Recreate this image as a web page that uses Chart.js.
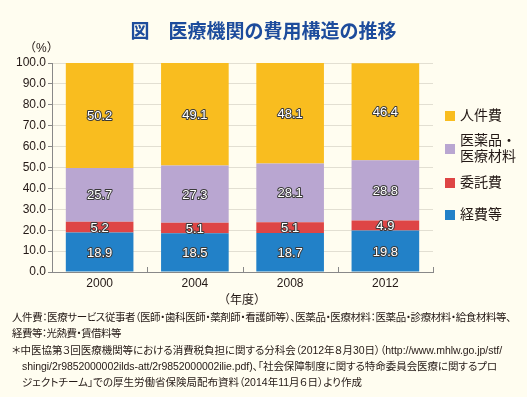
<!DOCTYPE html>
<html lang="ja">
<head>
<meta charset="utf-8">
<script src="https://cdn.jsdelivr.net/npm/chart.js@4"></script>
<style>
  body { margin: 0; background: #fffdf0; }
  #wrap { position: relative; width: 527px; height: 397px; background: #fffdf0; overflow: hidden;
          font-family: 'Liberation Sans', 'Noto Sans CJK JP', sans-serif; color: #231815; }
  #wrap canvas { position: absolute; left: 0; top: 0; }
  .title { position: absolute; left: 0; width: 527px; top: 16px; text-align: center;
           font-family: 'Noto Sans CJK JP', sans-serif; font-weight: bold; font-size: 19px; color: #1d4c9c; }
  .unit { position: absolute; left: 24px; top: 38px; font-size: 12px; }
  .xtitle { position: absolute; left: 218px; top: 290px; font-size: 12px; }
  .notes { position: absolute; left: 12px; top: 309px; font-size: 10.5px; line-height: 16.3px; white-space: nowrap;
           font-feature-settings: "palt"; }
  .notes span { display: inline-block; }
  .notes .ind { padding-left: 10px; }
</style>
</head>
<body>
<div id="wrap">
  <canvas id="chart" width="527" height="397"></canvas>
  <div class="title">図　医療機関の費用構造の推移</div>
  <div class="unit">（%）</div>
  <div class="xtitle">（年度）</div>
  <div class="notes">
    <div><span data-w="499">人件費：医療サービス従事者（医師・歯科医師・薬剤師・看護師等）、医薬品・医療材料：医薬品・診療材料・給食材料等、</span></div>
    <div><span data-w="109">経費等：光熱費・賃借料等</span></div>
    <div><span data-w="490">＊中医協第３回医療機関等における消費税負担に関する分科会（2012年８月30日）（http://www.mhlw.go.jp/stf/</span></div>
    <div class="ind"><span data-w="475">shingi/2r9852000002ilds-att/2r9852000002ilie.pdf)、「社会保障制度に関する特命委員会医療に関するプロ</span></div>
    <div class="ind"><span data-w="340">ジェクトチーム」での厚生労働省保険局配布資料（2014年11月６日）より作成</span></div>
  </div>
</div>
<script>
// data
const years = ['2000', '2004', '2008', '2012'];
const keihi = [18.9, 18.5, 18.7, 19.8];     // 経費等
const itaku = [5.2, 5.1, 5.1, 4.9];         // 委託費
const iyaku = [25.7, 27.3, 28.1, 28.8];     // 医薬品・医療材料
const jinken = [50.2, 49.1, 48.1, 46.4];    // 人件費
const yTicks = [0, 10, 20, 30, 40, 50, 60, 70, 80, 90, 100];

const FONT = "'Liberation Sans', 'Noto Sans CJK JP', sans-serif";

const series = [
  { label: ['経費等'], data: keihi, color: '#2281c8' },
  { label: ['委託費'], data: itaku, color: '#de4545' },
  { label: ['医薬品・', '医療材料'], data: iyaku, color: '#b9a6d1' },
  { label: ['人件費'], data: jinken, color: '#f9bd1f' },
];

// fit footnote lines to the widths of the original
document.querySelectorAll('.notes span[data-w]').forEach(el => {
  const target = +el.dataset.w;
  const n = el.textContent.length;
  const w = el.getBoundingClientRect().width;
  el.style.letterSpacing = ((target - w) / n).toFixed(3) + 'px';
});

// value labels: white text with dark outline
const valueLabels = {
  id: 'valueLabels',
  afterDatasetsDraw(chart) {
    const ctx = chart.ctx;
    ctx.save();
    ctx.font = '13px ' + FONT;
    ctx.textAlign = 'center';
    ctx.textBaseline = 'middle';
    ctx.lineJoin = 'round';
    chart.data.datasets.forEach((ds, i) => {
      chart.getDatasetMeta(i).data.forEach((bar, j) => {
        const y = (bar.y + bar.base) / 2 + 1;
        const txt = ds.data[j].toFixed(1);
        ctx.lineWidth = 2;
        ctx.strokeStyle = '#3a3a3a';
        ctx.strokeText(txt, bar.x, y);
        ctx.fillStyle = '#fff';
        ctx.fillText(txt, bar.x, y);
      });
    });
    ctx.restore();
  }
};

// legend on the right, top series first
const sideLegend = {
  id: 'sideLegend',
  afterDraw(chart) {
    const ctx = chart.ctx;
    const rows = [116, 149, 183, 215];
    ctx.save();
    ctx.font = '14px ' + FONT;
    ctx.textBaseline = 'middle';
    series.slice().reverse().forEach((s, i) => {
      const y = rows[i];
      ctx.fillStyle = s.color;
      ctx.fillRect(445, y - 5, 10, 10);
      ctx.fillStyle = '#231815';
      const lh = 16;
      s.label.forEach((t, k) => {
        ctx.fillText(t, 460, y + (k - (s.label.length - 1) / 2) * lh);
      });
    });
    ctx.restore();
  }
};

// small upward ticks between categories on the x axis
const catTicks = {
  id: 'catTicks',
  afterDraw(chart) {
    const x = chart.scales.x, ctx = chart.ctx;
    const step = (x.right - x.left) / years.length;
    ctx.save();
    ctx.strokeStyle = '#888';
    ctx.lineWidth = 1;
    for (let i = 1; i <= years.length; i++) {
      const px = Math.round(x.left + step * i) + 0.5;
      ctx.beginPath();
      ctx.moveTo(px, x.top);
      ctx.lineTo(px, x.top - 5);
      ctx.stroke();
    }
    ctx.restore();
  }
};

new Chart(document.getElementById('chart'), {
  type: 'bar',
  data: {
    labels: years,
    datasets: series.map(s => ({
      label: s.label.join(''),
      data: s.data,
      backgroundColor: s.color,
      borderWidth: 0,
      categoryPercentage: 0.71,
      barPercentage: 1,
    }))
  },
  options: {
    responsive: false,
    animation: false,
    devicePixelRatio: 1,
    layout: { padding: { top: 63, right: 94, bottom: 101, left: 0 } },
    plugins: { legend: { display: false }, tooltip: { enabled: false }, title: { display: false } },
    scales: {
      x: {
        stacked: true,
        afterFit: s => { s.height = 24; },
        grid: { display: false, drawTicks: false },
        border: { color: '#888', width: 1 },
        ticks: { color: '#231815', font: { family: FONT, size: 12 }, padding: 4 }
      },
      y: {
        stacked: true,
        min: 0, max: 100,
        afterFit: s => { s.width = 52; },
        afterBuildTicks: s => { s.ticks = yTicks.map(v => ({ value: v })); },
        border: { color: '#888', width: 1 },
        grid: { color: '#e2dfd2', tickLength: 4, tickColor: '#888' },
        ticks: {
          color: '#231815', font: { family: FONT, size: 12 }, padding: 2,
          callback: v => v.toFixed(1)
        }
      }
    }
  },
  plugins: [valueLabels, sideLegend, catTicks]
});
</script>
</body>
</html>
